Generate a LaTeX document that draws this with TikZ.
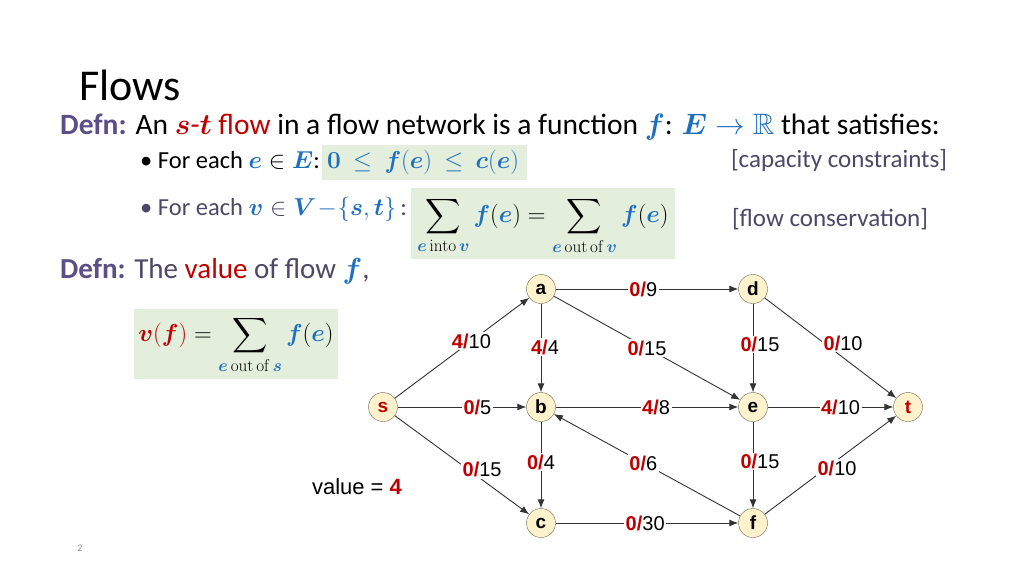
\RequirePackage{fix-cm}
\documentclass[tikz,border=0pt]{standalone}
\usepackage{amsmath,amssymb}
\usepackage[no-math]{fontspec}
\setmainfont{Carlito}
\newfontfamily\arialfont{Liberation Sans}
\usepackage{bm}
\usetikzlibrary{arrows.meta}
\definecolor{defnpurple}{HTML}{5B4F87}
\definecolor{notegrey}{HTML}{4E4866}
\definecolor{flowred}{HTML}{C00000}
\definecolor{mathblue}{HTML}{1F6FBF}
\definecolor{boxgreen}{HTML}{E3EFDC}
\definecolor{nodefill}{HTML}{FFF2CC}
\definecolor{nodeedge}{HTML}{6E6A55}
\newcommand{\flowlab}[2]{\textcolor{flowred}{\bfseries #1/}#2}
\newcommand{\mb}[1]{\textcolor{mathblue}{\bm{#1}}}

\begin{document}
\begin{tikzpicture}[x=1pt,y=-1pt,
    vertex/.style={circle,draw=nodeedge,fill=nodefill,minimum size=29pt,inner sep=0pt,
      font=\arialfont\bfseries\fontsize{19}{19}\selectfont},
    flowedge/.style={draw=black!80,line width=0.9pt,-{Latex[length=9pt,width=7pt]}},
    flowlabel/.style={fill=white,inner sep=1.5pt,font=\arialfont\fontsize{20}{20}\selectfont},
    greenbox/.style={fill=boxgreen,draw=none},
    bodytext/.style={anchor=base west,inner sep=0pt}]
    \useasboundingbox[fill=white] (0,0) rectangle (1024,576);
    % Green boxes
    \fill[greenbox] (322,145) rectangle (527,180);
    \fill[greenbox] (411,188) rectangle (675,259);
    \fill[greenbox] (134,309) rectangle (338,379);
    % Title and definitions
    \node[bodytext,font=\fontsize{44}{44}\selectfont] (title) at (79,100) {Flows};
    \node[bodytext,font=\fontsize{29.5}{29.5}\selectfont] (defnone) at (60,134)
      {\textcolor{defnpurple}{\bfseries Defn:} An $\textcolor{flowred}{\bm{s}\text{-}\bm{t}}$
       \textcolor{flowred}{flow} in a flow network is a function $\mb{f}$: $\textcolor{mathblue}{\bm{E}\rightarrow\mathbb{R}}$ that satisfies:};
    \node[bodytext,font=\fontsize{24.5}{24.5}\selectfont] (capline) at (140,168)
      {\textbullet\ For each $\mb{e}\in\mb{E}$: $\textcolor{mathblue}{\bm{0}\:\leq\:\bm{f}(\bm{e})\:\leq\:\bm{c}(\bm{e})}$};
    \node[bodytext,font=\fontsize{24.5}{24.5}\selectfont,text=notegrey] (consline) at (140,215)
      {\textbullet\ For each $\mb{v}\in\textcolor{mathblue}{\bm{V}\!-\!\{\bm{s},\bm{t}\}}$\,:};
    \node[font=\fontsize{24.5}{24.5}\selectfont,inner sep=0pt] (conseq) at (543,226)
      {$\displaystyle\sum_{\mb{e}\,\mathrm{into}\,\mb{v}}\mb{f}(\mb{e})=\sum_{\mb{e}\,\mathrm{out\,of}\,\mb{v}}\mb{f}(\mb{e})$};
    \node[font=\fontsize{25}{25}\selectfont,text=notegrey] (capnote) at (839,160) {[capacity constraints]};
    \node[font=\fontsize{25}{25}\selectfont,text=notegrey] (consnote) at (830,219) {[flow conservation]};
    \node[bodytext,font=\fontsize{29}{29}\selectfont,text=notegrey] (defntwo) at (60,278)
      {\textcolor{defnpurple}{\bfseries Defn:} The \textcolor{flowred}{value} of flow $\mb{f}$,};
    \node[font=\fontsize{24.5}{24.5}\selectfont,inner sep=0pt] (valeq) at (236,345)
      {$\displaystyle\textcolor{flowred}{\bm{v}(\bm{f})}=\sum_{\mb{e}\,\mathrm{out\,of}\,\mb{s}}\mb{f}(\mb{e})$};
    \node[font=\arialfont\fontsize{22}{22}\selectfont] (value) at (357,487)
      {value = \textcolor{flowred}{\bfseries 4}};
    \node[font=\fontsize{10}{10}\selectfont,text=black!45] (pagenum) at (80,548) {2};
    % Vertices
    \node[vertex] (a) at (541,289) {a};
    \node[vertex] (d) at (753,289) {d};
    \node[vertex,text=flowred] (s) at (383,407) {s};
    \node[vertex] (b) at (541,407) {b};
    \node[vertex] (e) at (753,407) {e};
    \node[vertex,text=flowred] (t) at (908,407) {t};
    \node[vertex] (c) at (541,523) {c};
    \node[vertex] (f) at (753,523) {f};
    % Edges
    \draw[flowedge] (s) -- node[flowlabel,pos=0.57] {\flowlab{4}{10}} (a);
    \draw[flowedge] (s) -- node[flowlabel,pos=0.62] {\flowlab{0}{5}} (b);
    \draw[flowedge] (s) -- node[flowlabel,pos=0.62,yshift=7pt,xshift=4pt] {\flowlab{0}{15}} (c);
    \draw[flowedge] (a) -- node[flowlabel,pos=0.48] {\flowlab{0}{9}} (d);
    \draw[flowedge] (a) -- node[flowlabel,pos=0.49,xshift=4pt] {\flowlab{4}{4}} (b);
    \draw[flowedge] (a) -- node[flowlabel,pos=0.5] {\flowlab{0}{15}} (e);
    \draw[flowedge] (d) -- node[flowlabel,pos=0.46,xshift=7pt] {\flowlab{0}{15}} (e);
    \draw[flowedge] (d) -- node[flowlabel,pos=0.55,yshift=10pt,xshift=6pt] {\flowlab{0}{10}} (t);
    \draw[flowedge] (b) -- node[flowlabel,pos=0.55] {\flowlab{4}{8}} (e);
    \draw[flowedge] (e) -- node[flowlabel,pos=0.58] {\flowlab{4}{10}} (t);
    \draw[flowedge] (b) -- node[flowlabel,pos=0.47] {\flowlab{0}{4}} (c);
    \draw[flowedge] (f) -- node[flowlabel,pos=0.52] {\flowlab{0}{6}} (b);
    \draw[flowedge] (e) -- node[flowlabel,pos=0.46,xshift=7pt] {\flowlab{0}{15}} (f);
    \draw[flowedge] (f) -- node[flowlabel,pos=0.55,yshift=-8pt] {\flowlab{0}{10}} (t);
    \draw[flowedge] (c) -- node[flowlabel,pos=0.49] {\flowlab{0}{30}} (f);
\end{tikzpicture}
\end{document}
